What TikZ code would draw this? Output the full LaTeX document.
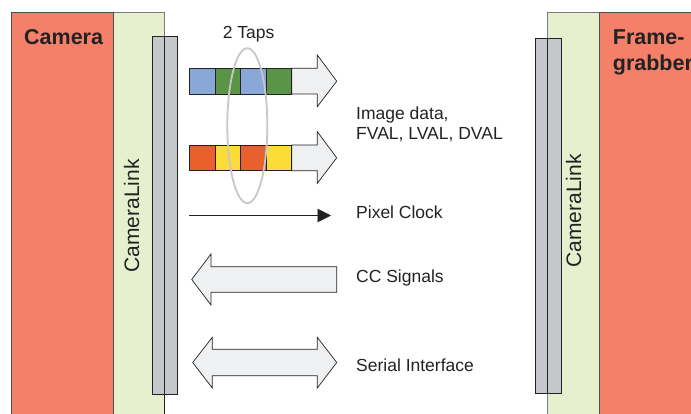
\documentclass[tikz,border=0pt]{standalone}
\usepackage{fontspec}
\setmainfont{Liberation Sans}
\usetikzlibrary{arrows.meta}

\definecolor{devred}{HTML}{F4806A}
\definecolor{linkgreen}{HTML}{E6F0CF}
\definecolor{connGray}{HTML}{C6C7CA}
\definecolor{arrowFill}{HTML}{EFF0F2}
\definecolor{tapBlue}{HTML}{89A8D8}
\definecolor{tapGreen}{HTML}{5A9447}
\definecolor{tapOrange}{HTML}{E9602E}
\definecolor{tapYellow}{HTML}{FADB37}
\definecolor{ink}{HTML}{222222}

\begin{document}
\begin{tikzpicture}[x=1pt,y=-1pt,
  device/.style={fill=devred,draw=ink!80,line width=0.8pt},
  linkbox/.style={fill=linkgreen,draw=ink!60,line width=0.8pt},
  connbar/.style={fill=connGray,draw=ink,line width=0.8pt},
  blockarrow/.style={fill=arrowFill,draw=ink,line width=0.7pt,line join=miter},
  tapcell/.style={draw=ink,line width=0.7pt},
  label/.style={font=\fontsize{17.5}{21}\selectfont,text=ink,inner sep=0pt},
  title/.style={font=\fontsize{21.5}{25}\selectfont\bfseries,text=ink,inner sep=0pt,align=left},
  linklabel/.style={font=\fontsize{21}{25}\selectfont,text=ink,inner sep=0pt,rotate=90}
]
\useasboundingbox (0,0) rectangle (691,414);

% camera side
\fill[devred] (11.7,12.3) rectangle (113,420);
\draw[ink!80,line width=0.8pt] (11.7,420) -- (11.7,12.3) -- (113,12.3) -- (113,420);
\fill[linkgreen] (113,12.3) rectangle (164,420);
\draw[ink!60,line width=0.8pt] (113,12.3) -- (164,12.3) -- (164,420);
\draw[ink!80,line width=0.8pt] (113,12.3) -- (113,420);
\draw[connbar] (152,36) rectangle (177,394);
\draw[ink,line width=0.8pt] (164,36) -- (164,420);

% frame grabber side
\fill[linkgreen] (547,12.3) rectangle (599,420);
\draw[ink!60,line width=0.8pt] (547,420) -- (547,12.3) -- (599,12.3);
\fill[devred] (599,12.3) rectangle (700,420);
\draw[ink!80,line width=0.8pt] (700,12.3) -- (599,12.3) -- (599,420);
\draw[connbar] (535,38) rectangle (561,393);
\draw[ink,line width=0.8pt] (547,38) -- (547,393);

\node[title,anchor=base west] (cam) at (24,44.3) {Camera};
\node[title,anchor=base west] (fg1) at (612.7,45) {Frame-};
\node[title,anchor=base west] (fg2) at (612.7,70.5) {grabber};
\node[linklabel] (cl1) at (131.5,216) {CameraLink};
\node[linklabel] (cl2) at (573.5,211) {CameraLink};

% tap 1 (blue/green)
\draw[blockarrow] (291.7,68.3) -- (317.3,68.3) -- (317.3,55) -- (336.7,81.2)
  -- (317.3,106.7) -- (317.3,94) -- (291.7,94) -- cycle;
\draw[tapcell,fill=tapBlue]  (189.3,68.3) rectangle (215,94);
\draw[tapcell,fill=tapGreen] (215,68.3) rectangle (240.7,94);
\draw[tapcell,fill=tapBlue]  (240.7,68.3) rectangle (266.3,94);
\draw[tapcell,fill=tapGreen] (266.3,68.3) rectangle (291.7,94);

% tap 2 (orange/yellow)
\draw[blockarrow] (291.7,145) -- (317.3,145) -- (317.3,131.7) -- (336.7,157.8)
  -- (317.3,183.3) -- (317.3,170.7) -- (291.7,170.7) -- cycle;
\draw[tapcell,fill=tapOrange] (189.3,145) rectangle (215,170.7);
\draw[tapcell,fill=tapYellow] (215,145) rectangle (240.7,170.7);
\draw[tapcell,fill=tapOrange] (240.7,145) rectangle (266.3,170.7);
\draw[tapcell,fill=tapYellow] (266.3,145) rectangle (291.7,170.7);

% tap grouping
\draw[black!22,line width=1.8pt] (247.3,125.7) ellipse [x radius=20,y radius=77.5];
\node[label,anchor=base west] (taps) at (222.7,38.3) {2 Taps};

% pixel clock
\coordinate (pcA) at (189.3,215.5);
\coordinate (pcB) at (331,215.5);
\draw[ink,line width=0.7pt,-{Triangle[length=13.5pt,width=13.4pt]}] (pcA) -- (pcB);

% CC signals (to the camera)
\draw[blockarrow] (336.7,266.7) -- (211,266.7) -- (211,254) -- (191.7,279.5)
  -- (211,305) -- (211,292.3) -- (336.7,292.3) -- cycle;

% serial interface (both ways)
\draw[blockarrow] (212.3,349.3) -- (317.3,349.3) -- (317.3,337.3) -- (336.7,362.5)
  -- (317.3,388) -- (317.3,375.7) -- (212.3,375.7) -- (212.3,388) -- (192.7,362.5)
  -- (212.3,337.3) -- cycle;

% signal names
\node[label,anchor=base west] (img1) at (356,119.3) {Image data,};
\node[label,anchor=base west] (img2) at (356,139.5) {FVAL, LVAL, DVAL};
\node[label,anchor=base west] (pclk) at (356,219) {Pixel Clock};
\node[label,anchor=base west] (ccs) at (356,282.7) {CC Signals};
\node[label,anchor=base west] (ser) at (356,371.7) {Serial Interface};
\end{tikzpicture}
\end{document}
